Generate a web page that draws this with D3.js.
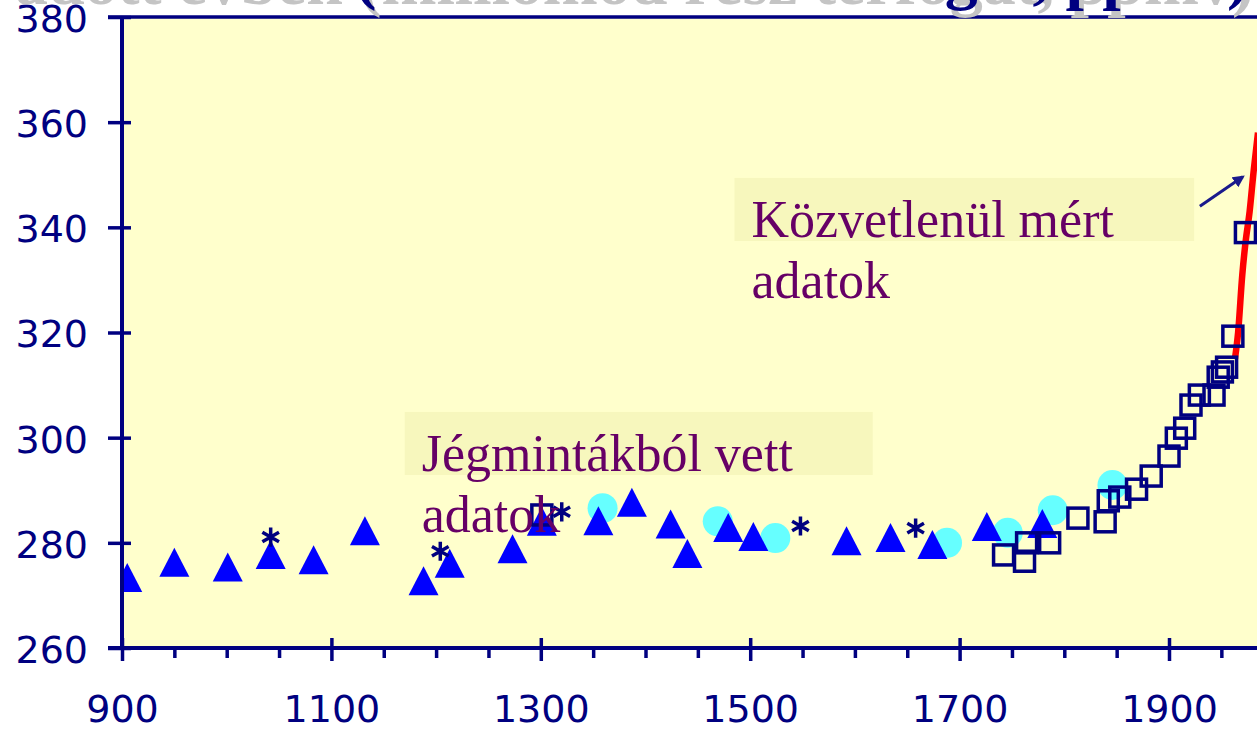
<!DOCTYPE html>
<html>
<head>
<meta charset="utf-8">
<script src="https://cdn.jsdelivr.net/npm/d3@7"></script>
<style>
  body { margin: 0; background: #ffffff; }
  svg { display: block; }
</style>
</head>
<body>
<svg id="chart" width="1257" height="730"></svg>
<script>
// ice core samples (triangles)
var triangleYears  = [905, 950, 1001, 1042, 1083, 1132, 1188, 1213, 1273, 1301, 1355, 1387, 1424, 1440, 1479, 1503, 1592, 1634, 1674, 1726, 1779];
var triangleValues = [273.3, 276.2, 275.3, 277.7, 276.7, 282.2, 272.7, 276.0, 278.8, 284.0, 284.1, 287.6, 283.5, 277.9, 282.8, 281.1, 280.3, 280.9, 279.6, 283.0, 283.6];

// second ice core (cyan dots)
var circleYears  = [1359, 1469, 1524, 1688, 1746, 1789, 1846];
var circleValues = [286.6, 284.1, 280.9, 280.0, 281.9, 286.2, 291.0];

// third core (asterisks)
var starYears  = [1042, 1204, 1320, 1548, 1658];
var starValues = [281.1, 278.4, 285.9, 283.2, 282.8];

// firn / Siple samples (hollow squares)
var squareYears  = [1301, 1742, 1762, 1764, 1786, 1813, 1839, 1842, 1853, 1869, 1883, 1900, 1907, 1915, 1921, 1929, 1943, 1947, 1951, 1955, 1961, 1973];
var squareValues = [285.3, 277.7, 276.5, 280.0, 280.0, 284.7, 284.0, 288.0, 288.7, 290.2, 292.7, 296.5, 299.9, 301.8, 306.2, 308.1, 308.1, 311.5, 312.5, 313.4, 319.3, 339.0];

// direct measurements (red line)
var measuredYears  = [1963, 1966, 1970, 1973, 1977, 1981, 1985];
var measuredValues = [315, 320, 331, 337, 343, 351, 358];

var yTicks = [260, 280, 300, 320, 340, 360, 380];
var xTicks = [900, 1100, 1300, 1500, 1700, 1900];
var xMinorTicks = [950, 1000, 1050, 1150, 1200, 1250, 1350, 1400, 1450, 1550, 1600, 1650, 1750, 1800, 1850, 1950];

var titleText = "A légköri CO₂-koncentráció az adott évben (milliomod rész térfogat, ppmv)";

var ChartView = function(){
  "use strict"

  var that = {},
  navy = "#000080",
  purple = "#660066",
  svg, x, y,
  plot_g, marks_g, notes_g, axes_g;

  function init(selector){
    svg = d3.select(selector);

    x = d3.scaleLinear().domain([900, 1900]).range([122, 1169]);
    y = d3.scaleLinear().domain([260, 380]).range([648, 17]);

    svg.append("defs")
    .append("clipPath")
    .attr("id", "plotclip")
    .append("rect")
    .attr("x", x(900))
    .attr("y", y(380))
    .attr("width", 1257 - x(900))
    .attr("height", y(260) - y(380));

    plot_g = svg.append("g");
    marks_g = svg.append("g").attr("clip-path", "url(#plotclip)");
    notes_g = svg.append("g");
    axes_g = svg.append("g");
  }

  function zip(xs, ys){
    return xs.map(function(v, i){ return {year: v, ppm: ys[i]}; });
  }

  function renderTitle(){
    // grey drop shadow, then the navy text; only the lower edge is on the page
    svg.append("text")
    .attr("x", 1254)
    .attr("y", 4)
    .attr("text-anchor", "end")
    .attr("font-family", "Liberation Serif, Times New Roman, serif")
    .attr("font-weight", "bold")
    .attr("font-size", 66)
    .attr("fill", "#c4c4c4")
    .text(titleText);

    svg.append("text")
    .attr("x", 1249)
    .attr("y", -3)
    .attr("text-anchor", "end")
    .attr("font-family", "Liberation Serif, Times New Roman, serif")
    .attr("font-weight", "bold")
    .attr("font-size", 66)
    .attr("fill", navy)
    .text(titleText);
  }

  function renderBackground(){
    plot_g.append("rect")
    .attr("x", x(900))
    .attr("y", y(380))
    .attr("width", 1257 - x(900))
    .attr("height", y(260) - y(380))
    .attr("fill", "#ffffcc");
  }

  function renderMarks(){
    var line = d3.line()
    .x(function(element){ return x(element.year); })
    .y(function(element){ return y(element.ppm); })
    .curve(d3.curveMonotoneX);

    marks_g.append("path")
    .datum(zip(measuredYears, measuredValues))
    .attr("d", line)
    .attr("fill", "none")
    .attr("stroke", "#ff0000")
    .attr("stroke-width", 6.5);

    marks_g.selectAll(".circle_node")
    .data(zip(circleYears, circleValues))
    .enter()
    .append("circle")
    .attr("class", "circle_node")
    .attr("cx", function(element){ return x(element.year); })
    .attr("cy", function(element){ return y(element.ppm); })
    .attr("r", 15)
    .attr("fill", "#66ffff");

    marks_g.selectAll(".triangle_node")
    .data(zip(triangleYears, triangleValues))
    .enter()
    .append("path")
    .attr("class", "triangle_node")
    .attr("d", "M0,-15L15,14L-15,14Z")
    .attr("transform", function(element){ return "translate(" + x(element.year) + "," + y(element.ppm) + ")"; })
    .attr("fill", "#0000ff");

    marks_g.selectAll(".square_node")
    .data(zip(squareYears, squareValues))
    .enter()
    .append("rect")
    .attr("class", "square_node")
    .attr("x", function(element){ return x(element.year) - 10; })
    .attr("y", function(element){ return y(element.ppm) - 10; })
    .attr("width", 20)
    .attr("height", 20)
    .attr("fill", "none")
    .attr("stroke", navy)
    .attr("stroke-width", 3.5);

    var star = d3.symbol().type(d3.symbolAsterisk).size(260);

    marks_g.selectAll(".star_node")
    .data(zip(starYears, starValues))
    .enter()
    .append("path")
    .attr("class", "star_node")
    .attr("d", star)
    .attr("transform", function(element){ return "translate(" + x(element.year) + "," + y(element.ppm) + ")"; })
    .attr("fill", "none")
    .attr("stroke", navy)
    .attr("stroke-width", 3.5);
  }

  function renderNote(x0, y0, x1, y1, lines){
    notes_g.append("rect")
    .attr("x", x(x0))
    .attr("y", y(y0))
    .attr("width", x(x1) - x(x0))
    .attr("height", y(y1) - y(y0))
    .attr("fill", "#f7f7bd");

    var text = notes_g.append("text")
    .attr("x", x(x0) + 17)
    .attr("y", y(y0) + 59)
    .attr("font-family", "Liberation Serif, Times New Roman, serif")
    .attr("font-size", 52)
    .attr("fill", purple);

    lines.forEach(function(str, i){
      text.append("tspan")
      .attr("x", x(x0) + 17)
      .attr("dy", i == 0 ? 0 : 61)
      .text(str);
    });
  }

  function renderNotes(){
    renderNote(1170, 304.9, 1617, 292.9, ["Jégmintákból vett", "adatok"]);
    renderNote(1485, 349.4, 1924, 337.4, ["Közvetlenül mért", "adatok"]);

    svg.append("defs")
    .append("marker")
    .attr("id", "arrowhead")
    .attr("viewBox", "0 0 10 10")
    .attr("refX", 8)
    .attr("refY", 5)
    .attr("markerWidth", 4)
    .attr("markerHeight", 4)
    .attr("orient", "auto")
    .append("path")
    .attr("d", "M0,0L10,5L0,10Z")
    .attr("fill", "#1a1a8c");

    notes_g.append("line")
    .attr("x1", x(1929.5))
    .attr("y1", y(344))
    .attr("x2", x(1970.5))
    .attr("y2", y(349.6))
    .attr("stroke", "#1a1a8c")
    .attr("stroke-width", 3)
    .attr("marker-end", "url(#arrowhead)");
  }

  function renderAxes(){
    var font = "DejaVu Sans, Verdana, sans-serif";

    var yAxis = axes_g.append("g")
    .attr("transform", "translate(" + x(900) + ",0)")
    .call(d3.axisLeft(y).tickValues(yTicks).tickSize(14).tickPadding(20));

    yAxis.select(".domain").remove();
    yAxis.selectAll(".tick line")
    .attr("x1", 9)
    .attr("stroke", navy)
    .attr("stroke-width", 3.5);
    yAxis.selectAll(".tick text")
    .attr("dy", "0.38em")
    .attr("font-family", font)
    .attr("font-size", 38)
    .attr("fill", navy);

    var xMinor = axes_g.append("g")
    .attr("transform", "translate(0," + y(260) + ")")
    .call(d3.axisBottom(x).tickValues(xMinorTicks).tickSize(10).tickFormat(""));
    xMinor.select(".domain").remove();
    xMinor.selectAll(".tick line")
    .attr("stroke", navy)
    .attr("stroke-width", 3.5);

    var xAxis = axes_g.append("g")
    .attr("transform", "translate(0," + y(260) + ")")
    .call(d3.axisBottom(x).tickValues(xTicks).tickSize(13).tickPadding(34).tickFormat(d3.format("d")));
    xAxis.select(".domain").remove();
    xAxis.selectAll(".tick line")
    .attr("y1", -10)
    .attr("stroke", navy)
    .attr("stroke-width", 3.5);
    xAxis.selectAll(".tick text")
    .attr("font-family", font)
    .attr("font-size", 38)
    .attr("fill", navy);

    // spines
    axes_g.append("line")
    .attr("x1", x(900)).attr("x2", x(900))
    .attr("y1", y(380)).attr("y2", y(260))
    .attr("stroke", navy).attr("stroke-width", 4);

    axes_g.append("line")
    .attr("x1", 108).attr("x2", 1257)
    .attr("y1", y(260)).attr("y2", y(260))
    .attr("stroke", navy).attr("stroke-width", 4);

    axes_g.append("line")
    .attr("x1", 108).attr("x2", 1257)
    .attr("y1", y(380)).attr("y2", y(380))
    .attr("stroke", navy).attr("stroke-width", 3.5);
  }

  function render(){
    renderTitle();
    renderBackground();
    renderMarks();
    renderNotes();
    renderAxes();
  }

  that.init = init;
  that.render = render;

  return that;
};

var view = ChartView();
view.init("#chart");
view.render();
</script>
</body>
</html>
